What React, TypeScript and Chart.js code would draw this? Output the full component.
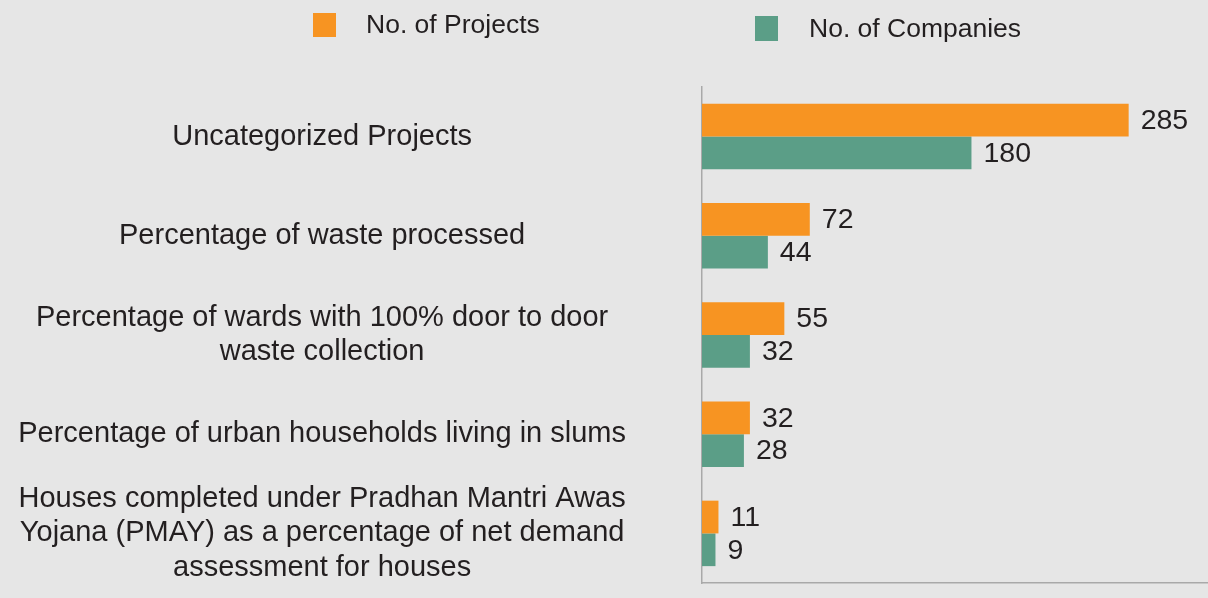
import React, { useEffect, useRef } from "react";
import { Chart, registerables } from "chart.js";

Chart.register(...registerables);

const categories: (string | string[])[] = [
  "Uncategorized Projects",
  "Percentage of waste processed",
  ["Percentage of wards with 100% door to door", "waste collection"],
  "Percentage of urban households living in slums",
  [
    "Houses completed under Pradhan Mantri Awas",
    "Yojana (PMAY) as a percentage of net demand",
    "assessment for houses",
  ],
];

const projects = [285, 72, 55, 32, 11];
const companies = [180, 44, 32, 28, 9];

const seriesNames = ["No. of Projects", "No. of Companies"];

const ORANGE = "#F79422";
const TEAL = "#5B9E87";
const BG = "#e6e6e6";
const TEXT = "#231f20";
const AXIS = "#a9a9a9";
const FONT = '"Liberation Sans", Arial, Helvetica, sans-serif';

const legendPlugin = {
  id: "customLegend",
  afterDraw(chart: any) {
    const ctx = chart.ctx;
    const items = [
      { color: ORANGE, label: seriesNames[0], bx: 313, by: 13, bw: 23, bh: 24, tx: 366, ty: 26 },
      { color: TEAL, label: seriesNames[1], bx: 755, by: 16, bw: 23, bh: 25, tx: 809, ty: 30 },
    ];
    ctx.save();
    ctx.font = `26.5px ${FONT}`;
    ctx.textBaseline = "middle";
    ctx.textAlign = "left";
    for (const it of items) {
      ctx.fillStyle = it.color;
      ctx.fillRect(it.bx, it.by, it.bw, it.bh);
      ctx.fillStyle = TEXT;
      ctx.fillText(it.label, it.tx, it.ty);
    }
    ctx.restore();
  },
};

const valueLabelPlugin = {
  id: "valueLabels",
  afterDatasetsDraw(chart: any) {
    const ctx = chart.ctx;
    ctx.save();
    ctx.font = `28.5px ${FONT}`;
    ctx.fillStyle = TEXT;
    ctx.textBaseline = "middle";
    ctx.textAlign = "left";
    chart.data.datasets.forEach((ds: any, di: number) => {
      const meta = chart.getDatasetMeta(di);
      meta.data.forEach((bar: any, i: number) => {
        ctx.fillText(String(ds.data[i]), bar.x + 12, bar.y + 1);
      });
    });
    ctx.restore();
  },
};

export default function App() {
  const ref = useRef<HTMLCanvasElement | null>(null);

  useEffect(() => {
    if (!ref.current) return;
    const chart = new Chart(ref.current, {
      type: "bar",
      data: {
        labels: categories as any,
        datasets: [
          {
            label: seriesNames[0],
            data: projects,
            backgroundColor: ORANGE,
            borderWidth: 0,
            categoryPercentage: 0.66,
            barPercentage: 1,
          },
          {
            label: seriesNames[1],
            data: companies,
            backgroundColor: TEAL,
            borderWidth: 0,
            categoryPercentage: 0.66,
            barPercentage: 1,
          },
        ],
      },
      options: {
        indexAxis: "y",
        animation: false,
        responsive: false,
        maintainAspectRatio: false,
        layout: { padding: { top: 87, bottom: 15, left: 0, right: 0 } },
        plugins: {
          legend: { display: false },
          tooltip: { enabled: false },
        },
        scales: {
          x: {
            min: 0,
            max: 338,
            display: true,
            ticks: { display: false },
            grid: { display: false, drawTicks: false },
            border: { display: true, color: AXIS, width: 1.5 },
            afterFit: (scale: any) => {
              scale.height = 0;
              scale.paddingLeft = 0;
              scale.paddingRight = 0;
            },
          },
          y: {
            display: true,
            grid: { display: false, drawTicks: false },
            border: { display: true, color: AXIS, width: 1.5 },
            ticks: {
              autoSkip: false,
              crossAlign: "center",
              padding: 76,
              color: TEXT,
              font: { family: FONT, size: 29, lineHeight: 1.2 },
            },
            afterFit: (scale: any) => {
              scale.width = 702;
              scale.paddingTop = 0;
              scale.paddingBottom = 0;
            },
          },
        },
      },
      plugins: [legendPlugin, valueLabelPlugin],
    });
    return () => chart.destroy();
  }, []);

  return (
    <div
      style={{
        position: "fixed",
        left: 0,
        top: 0,
        width: 1208,
        height: 598,
        background: BG,
      }}
    >
      <canvas ref={ref} width={1208} height={598} style={{ display: "block" }} />
    </div>
  );
}
